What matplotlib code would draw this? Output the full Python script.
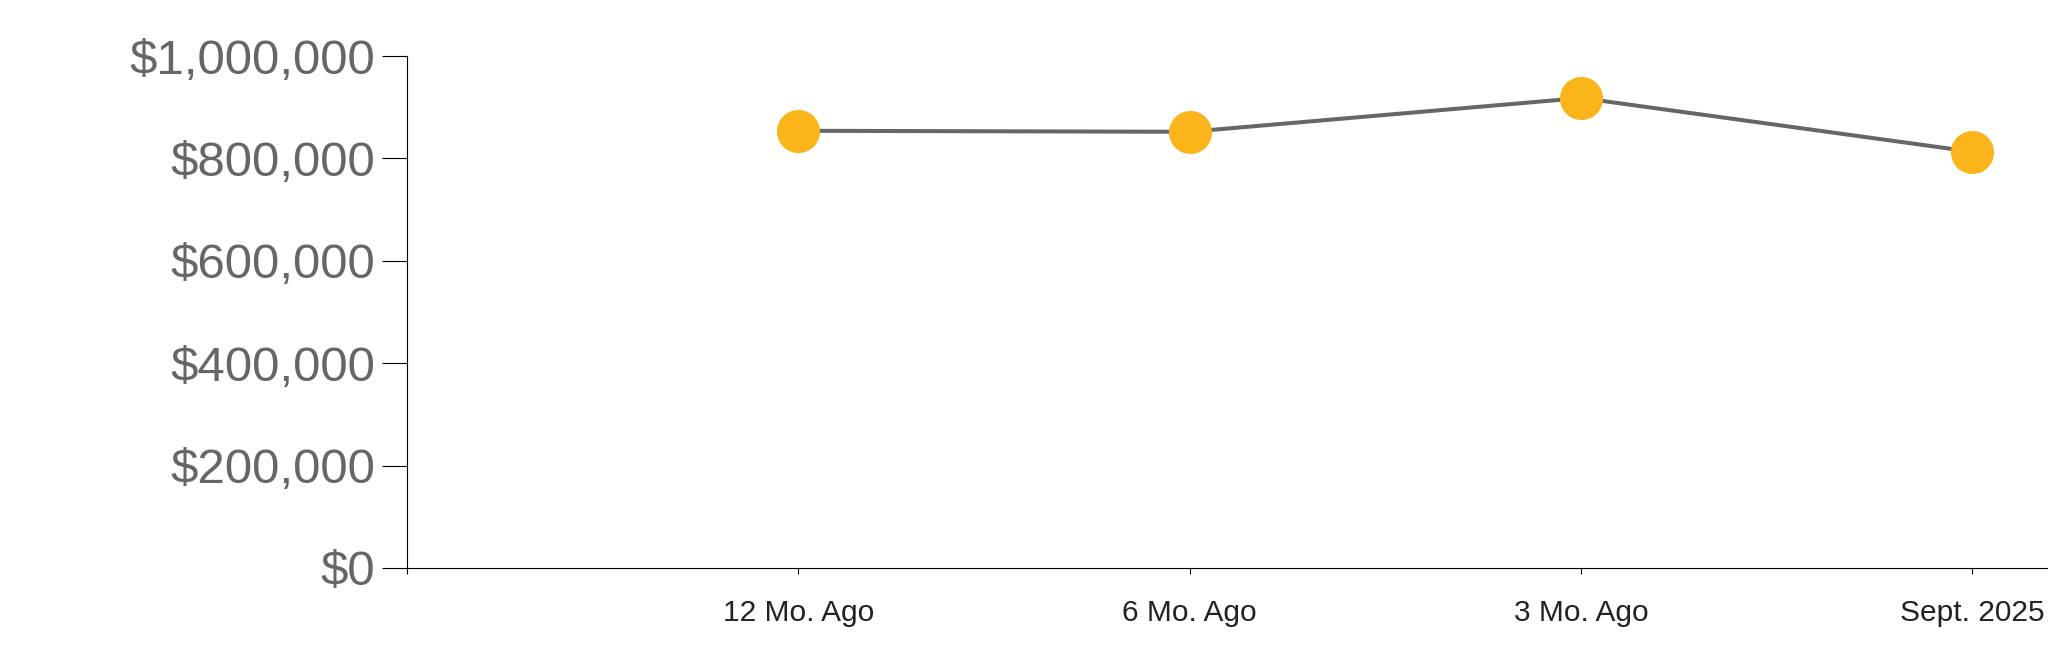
import matplotlib
matplotlib.use("Agg")
import matplotlib.pyplot as plt
from matplotlib.ticker import FuncFormatter

CATEGORIES = ["12 Mo. Ago", "6 Mo. Ago", "3 Mo. Ago", "Sept. 2025"]
VALUES = [854000, 852000, 918000, 813000]
Y_TICKS = [0, 200000, 400000, 600000, 800000, 1000000]

LINE = "#666666"
DOT = "#FBB41A"

plt.rcParams["font.family"] = ["Liberation Sans", "DejaVu Sans"]

fig = plt.figure(figsize=(20.48, 6.63), dpi=100)
ax = fig.add_axes([0.1987, 0.1433, 0.8013, 0.7722])

xs = list(range(1, len(CATEGORIES) + 1))
ax.plot(xs, VALUES, color=LINE, linewidth=2.9, zorder=2, solid_capstyle="butt")
ax.plot(xs, VALUES, linestyle="none", marker="o", markersize=30,
        markerfacecolor=DOT, markeredgecolor=DOT, zorder=3)

ax.set_xlim(0, 4.193)
ax.set_ylim(0, 1000000)

ax.set_xticks([0] + xs)
ax.set_xticklabels([""] + CATEGORIES)
ax.set_yticks(Y_TICKS)
ax.yaxis.set_major_formatter(FuncFormatter(lambda v, _: f"${v:,.0f}"))

ax.tick_params(axis="y", length=18, width=0.8, pad=5, labelsize=35.5,
               labelcolor="#666666", color="black")
ax.tick_params(axis="x", length=4.5, width=0.8, pad=18, labelsize=21.5,
               labelcolor="#222222", color="black")

for side in ("top", "right"):
    ax.spines[side].set_visible(False)
for side in ("left", "bottom"):
    ax.spines[side].set_linewidth(0.8)
    ax.spines[side].set_color("black")

fig.savefig("out.png", dpi=100, facecolor="white")
